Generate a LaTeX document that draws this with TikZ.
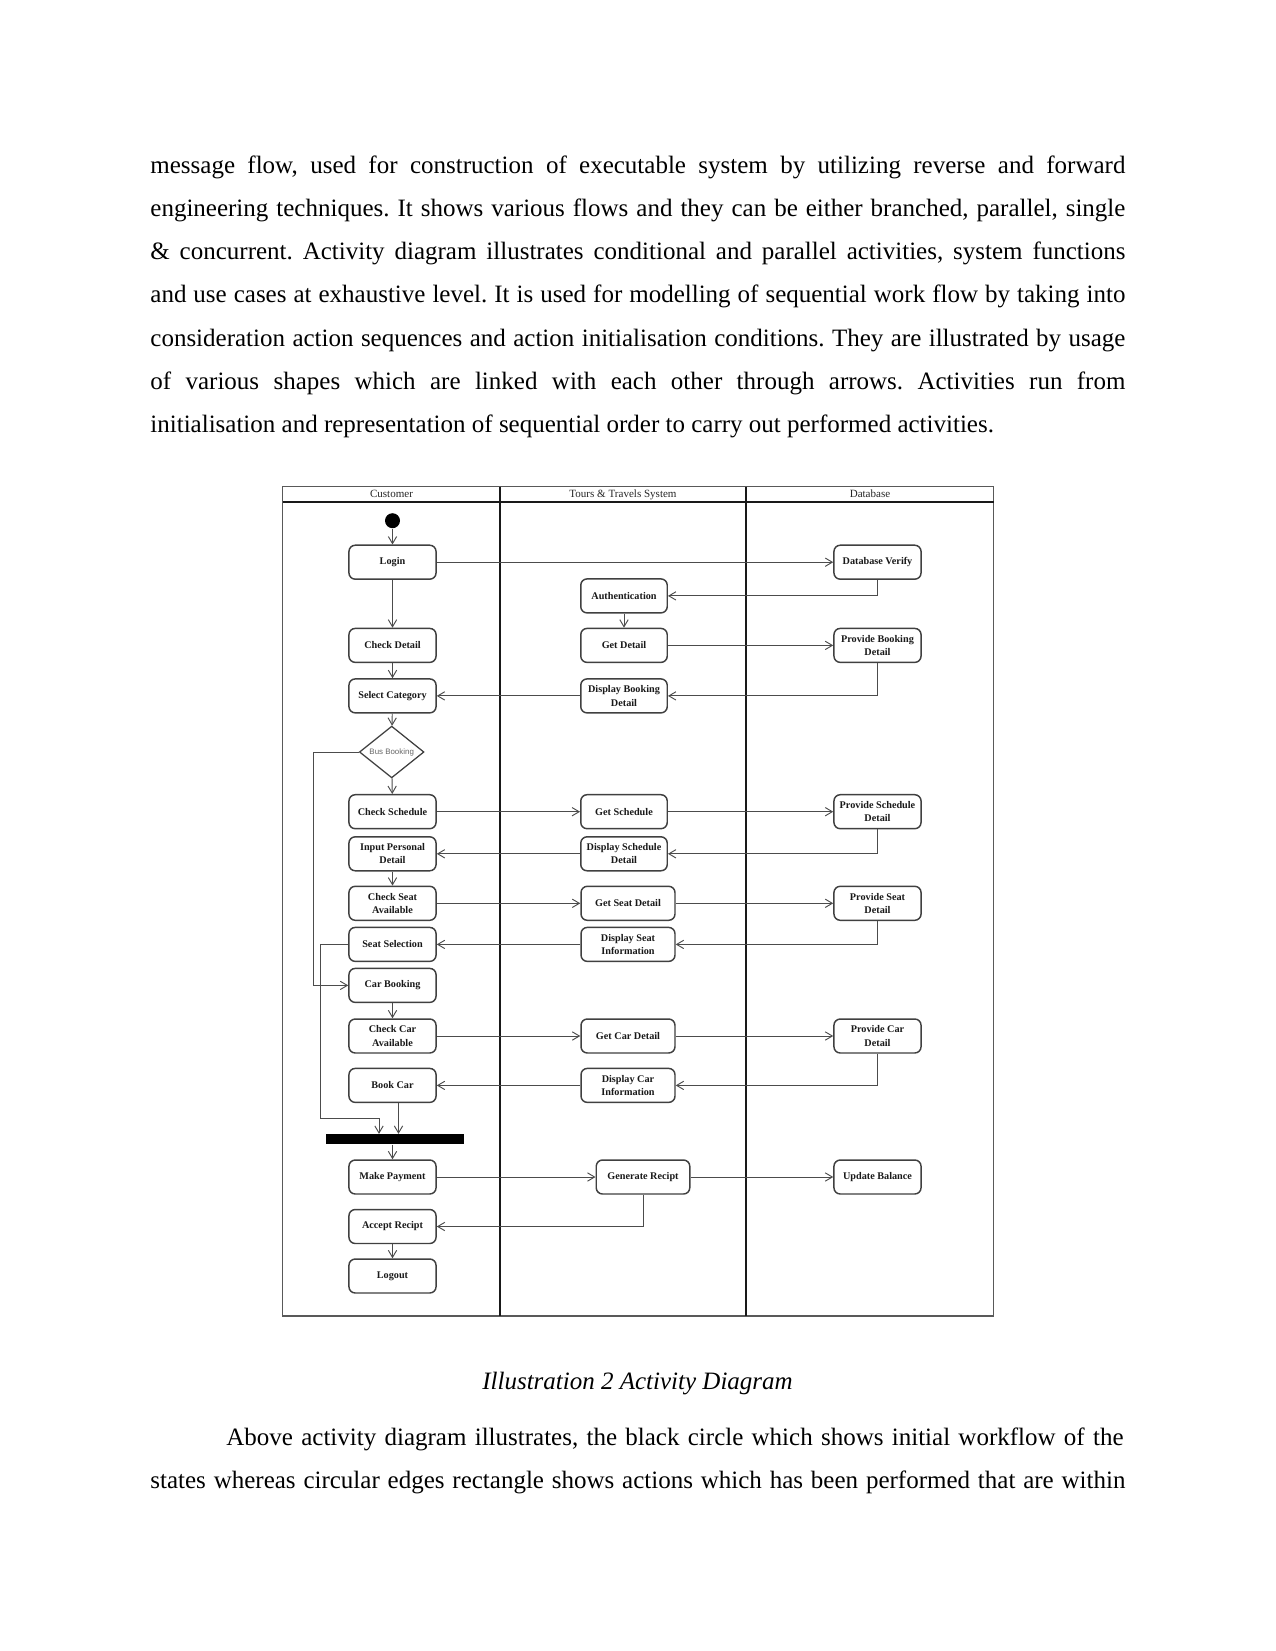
\documentclass[tikz,border=0pt]{standalone}
\usepackage{fontspec}
\setmainfont{Liberation Serif}
\newfontfamily\diasans{Liberation Sans}
\usetikzlibrary{arrows.meta,shapes.geometric}
\frenchspacing
\begin{document}
\begin{tikzpicture}[x=0.48pt,y=-0.48pt,
 act/.style={draw=black!75, line width=0.7pt, rounded corners=3pt, minimum width=41.8pt, minimum height=16.3pt, inner sep=0.5pt, align=center, font=\fontsize{4.9}{6.4}\selectfont\bfseries, text=black!90},
 mid/.style={act, minimum width=41.5pt},
 wide/.style={act, minimum width=45.1pt},
 flow/.style={draw=black!70, line width=0.45pt, -{Straight Barb[length=3.4pt,width=4pt]}},
 plain/.style={draw=black!70, line width=0.45pt},
 bodytxt/.style={anchor=base west, inner sep=0pt, font=\fontsize{12}{14}\selectfont},
 lanehead/.style={anchor=base, inner sep=0pt, font=\fontsize{5.3}{6}\selectfont, text=black!85}
]
\fill[white] (0,0) rectangle (1275,1651);

% body text
\node[bodytxt] (t1) at (150,173.3) {\makebox[468pt][s]{message flow, used for construction of executable system by utilizing reverse and forward}};
\node[bodytxt] (t2) at (150,216.5) {\makebox[468pt][s]{engineering techniques. It shows various flows and they can be either branched, parallel, single}};
\node[bodytxt] (t3) at (150,259.7) {\makebox[468pt][s]{\& concurrent. Activity diagram illustrates conditional and parallel activities, system functions}};
\node[bodytxt] (t4) at (150,302.9) {\makebox[468pt][s]{and use cases at exhaustive level. It is used for modelling of sequential work flow by taking into}};
\node[bodytxt] (t5) at (150,346.1) {\makebox[468pt][s]{consideration action sequences and action initialisation conditions. They are illustrated by usage}};
\node[bodytxt] (t6) at (150,389.3) {\makebox[468pt][s]{of various shapes which are linked with each other through arrows. Activities run from}};
\node[bodytxt] (t7) at (150,432.5) {initialisation and representation of sequential order to carry out performed activities.};

\node[anchor=base, inner sep=0pt, font=\fontsize{12}{14}\selectfont\itshape] (cap) at (637.5,1389) {Illustration 2 Activity Diagram};
\node[bodytxt] (t8) at (226,1445) {\makebox[430.6pt][s]{Above activity diagram illustrates, the black circle which shows initial workflow of the}};
\node[bodytxt] (t9) at (150,1488.2) {\makebox[468pt][s]{states whereas circular edges rectangle shows actions which has been performed that are within}};

% swimlane frame
\draw[black!65, line width=0.6pt] (282.7,486.5) rectangle (993.5,1316);
\draw[black!90, line width=1.1pt] (282.7,501.7) -- (993.5,501.7);
\draw[black!90, line width=1.2pt] (500,486.5) -- (500,1316);
\draw[black!90, line width=1.2pt] (746,486.5) -- (746,1316);
\node[lanehead] (h1) at (391.5,497.5) {Customer};
\node[lanehead] (h2) at (623,497.5) {Tours \& Travels System};
\node[lanehead] (h3) at (870,497.5) {Database};

% customer lane
\node[circle, fill=black, inner sep=0pt, minimum size=7.2pt] (init) at (392.5,520.7) {};
\node[act] (login) at (392.5,562.2) {Login};
\node[act] (chkd) at (392.5,645.4) {Check Detail};
\node[act] (selc) at (392.5,695.9) {Select Category};
\node[diamond, draw=black!75, line width=0.6pt, inner sep=0pt, minimum width=31pt, minimum height=24.5pt, font=\diasans\fontsize{3.8}{4}\selectfont, text=black!60] (dia) at (391.7,752) {Bus Booking};
\node[act] (chks) at (392.5,811.7) {Check Schedule};
\node[act] (inp) at (392.5,853.8) {Input Personal\\Detail};
\node[act] (chkseat) at (392.5,903.3) {Check Seat\\Available};
\node[act] (seatsel) at (392.5,944.4) {Seat Selection};
\node[act] (carb) at (392.5,985.4) {Car Booking};
\node[act] (chkcar) at (392.5,1036) {Check Car\\Available};
\node[act] (bookcar) at (392.5,1085.4) {Book Car};
\node[rectangle, fill=black, inner sep=0pt, minimum width=66.4pt, minimum height=4.8pt] (bar) at (395,1139.3) {};
\node[act] (pay) at (392.5,1177) {Make Payment};
\node[act] (acc) at (392.5,1226.5) {Accept Recipt};
\node[act] (logout) at (392.5,1276) {Logout};

% system lane
\node[mid] (auth) at (624,595.9) {Authentication};
\node[mid] (getd) at (624,645.4) {Get Detail};
\node[mid] (dbd) at (624,695.9) {Display Booking\\Detail};
\node[mid] (gets) at (624,811.7) {Get Schedule};
\node[mid] (dsd) at (624,853.8) {Display Schedule\\Detail};
\node[wide] (getseat) at (628,903.3) {Get Seat Detail};
\node[wide] (dseat) at (628,944.4) {Display Seat\\Information};
\node[wide] (getcar) at (628,1036) {Get Car Detail};
\node[wide] (dcar) at (628,1085.4) {Display Car\\Information};
\node[act, minimum width=44.9pt] (gen) at (643,1177) {Generate Recipt};

% database lane
\node[act] (dbv) at (877.5,562.2) {Database Verify};
\node[act] (pbd) at (877.5,645.4) {Provide Booking\\Detail};
\node[act] (psd) at (877.5,811.7) {Provide Schedule\\Detail};
\node[act] (pseat) at (877.5,903.3) {Provide Seat\\Detail};
\node[act] (pcar) at (877.5,1036) {Provide Car\\Detail};
\node[act] (upd) at (877.5,1177) {Update Balance};

% vertical flows in customer lane
\draw[flow] (init) -- (login);
\draw[flow] (login) -- (chkd);
\draw[flow] (chkd) -- (selc);
\draw[flow] (selc) -- (dia);
\draw[flow] (dia) -- (chks);
\draw[flow] (inp) -- (chkseat);
\draw[flow] (carb) -- (chkcar);
\draw[flow] (acc) -- (logout);
\draw[flow] (auth) -- (getd);

% rightward flows
\draw[flow] (login) -- (dbv);
\draw[flow] (getd) -- (pbd);
\draw[flow] (chks) -- (gets);
\draw[flow] (gets) -- (psd);
\draw[flow] (chkseat) -- (getseat);
\draw[flow] (getseat) -- (pseat);
\draw[flow] (chkcar) -- (getcar);
\draw[flow] (getcar) -- (pcar);
\draw[flow] (pay) -- (gen);
\draw[flow] (gen) -- (upd);

% return flows
\draw[flow] (dbv.south) |- (auth.east);
\draw[flow] (pbd.south) |- (dbd.east);
\draw[flow] (dbd) -- (selc);
\draw[flow] (psd.south) |- (dsd.east);
\draw[flow] (dsd) -- (inp);
\draw[flow] (pseat.south) |- (dseat.east);
\draw[flow] (dseat) -- (seatsel);
\draw[flow] (pcar.south) |- (dcar.east);
\draw[flow] (dcar) -- (bookcar);
\draw[flow] (gen.south) |- (acc.east);

% branch from decision to car booking
\coordinate (j1) at (313,752);
\draw[flow] (dia.west) -- (j1) |- (carb.west);

% seat selection to join bar
\coordinate (j2) at (320,1118.3);
\coordinate (j3) at (379,1118.3);
\draw[flow] (seatsel.west) -| (j2) -- (j3) -- (j3 |- bar.north);

% book car to join bar
\coordinate (bka) at (398.5,1102.5);
\draw[flow] (bka) -- (bka |- bar.north);

% join bar to payment
\draw[flow] (bar.south -| pay.north) -- (pay.north);
\end{tikzpicture}
\end{document}
